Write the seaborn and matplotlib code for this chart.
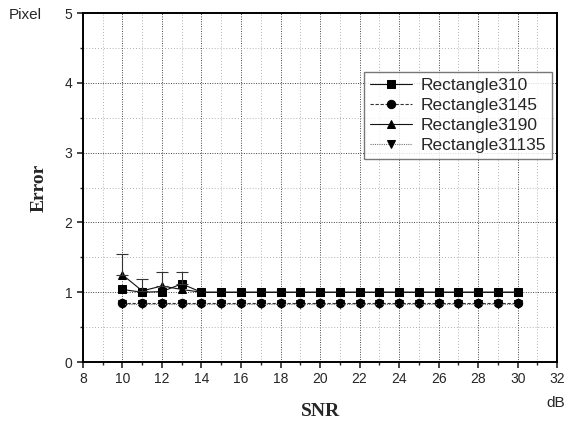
import matplotlib
matplotlib.use('Agg')
import matplotlib.pyplot as plt
import seaborn as sns
import numpy as np
import pandas as pd
from matplotlib.ticker import MultipleLocator

# Dados
snr = list(range(10, 31))
rect310 = [1.04, 1.00, 1.01, 1.12] + [1.00] * 17
rect3145 = [0.84] * 21
rect3190 = [1.25, 1.02, 1.09, 1.04] + [1.00] * 17
rect31135 = [0.83] * 21

# barras de erro (só nos primeiros pontos)
err_x = [10, 11, 12, 13]
err_y = [1.25, 1.02, 1.09, 1.12]
err_up = [0.30, 0.17, 0.20, 0.17]

series = {
    'Rectangle310': rect310,
    'Rectangle3145': rect3145,
    'Rectangle3190': rect3190,
    'Rectangle31135': rect31135,
}
markers = {'Rectangle310': 's', 'Rectangle3145': 'o',
           'Rectangle3190': '^', 'Rectangle31135': 'v'}
styles = {'Rectangle310': '-', 'Rectangle3145': (0, (3, 1.5)),
          'Rectangle3190': '-', 'Rectangle31135': (0, (1, 1))}
colors = {'Rectangle310': '#111111', 'Rectangle3145': '#333333',
          'Rectangle3190': '#111111', 'Rectangle31135': '#777777'}

sns.set_style('white')
plt.rcParams['font.family'] = ['Liberation Sans', 'DejaVu Sans']

fig = plt.figure(figsize=(5.68, 4.21), dpi=100)
ax = fig.add_axes([0.146, 0.140, 0.835, 0.829])

for name, vals in series.items():
    df = pd.DataFrame({'SNR': snr, 'Error': vals})
    sns.lineplot(data=df, x='SNR', y='Error', ax=ax, color=colors[name],
                 linewidth=0.8, linestyle=styles[name], marker=markers[name],
                 markersize=6, markeredgecolor='black', markerfacecolor='black',
                 label=name)

ax.errorbar(err_x, err_y, yerr=[np.zeros(4), err_up], fmt='none',
            ecolor='#333333', elinewidth=0.8, capsize=4, capthick=0.8)

ax.set_xlim(8, 32)
ax.set_ylim(0, 5)
ax.xaxis.set_major_locator(MultipleLocator(2))
ax.xaxis.set_minor_locator(MultipleLocator(1))
ax.yaxis.set_major_locator(MultipleLocator(1))
ax.yaxis.set_minor_locator(MultipleLocator(0.5))

ax.grid(which='major', color='#444444', linestyle=(0, (1, 1.5)), linewidth=0.7)
ax.grid(which='minor', color='#999999', linestyle=(0, (1, 2.5)), linewidth=0.6)
ax.tick_params(which='major', direction='out', length=4, width=1.2,
               labelsize=10, bottom=True, left=True)
ax.tick_params(which='minor', direction='out', length=2.5, width=1.0,
               bottom=True, left=True)
for sp in ax.spines.values():
    sp.set_color('black')
    sp.set_linewidth(1.4)

ax.set_xlabel('SNR', fontfamily='Liberation Serif', fontweight='bold',
              fontsize=14, labelpad=12)
ax.set_ylabel('Error', fontfamily='Liberation Serif', fontweight='bold',
              fontsize=14, labelpad=12)

fig.text(0.016, 0.965, 'Pixel', fontsize=11, va='center', ha='left')
fig.text(0.995, 0.043, 'dB', fontsize=11, va='center', ha='right')

leg = ax.legend(loc='upper right', bbox_to_anchor=(0.989, 0.831),
                borderaxespad=0, fontsize=12.5, frameon=True, fancybox=False,
                handlelength=2.4, borderpad=0.35, labelspacing=0.28,
                handletextpad=0.5)
leg.get_frame().set_edgecolor('#555555')
leg.get_frame().set_linewidth(1.0)

fig.savefig('out.png', dpi=100)
